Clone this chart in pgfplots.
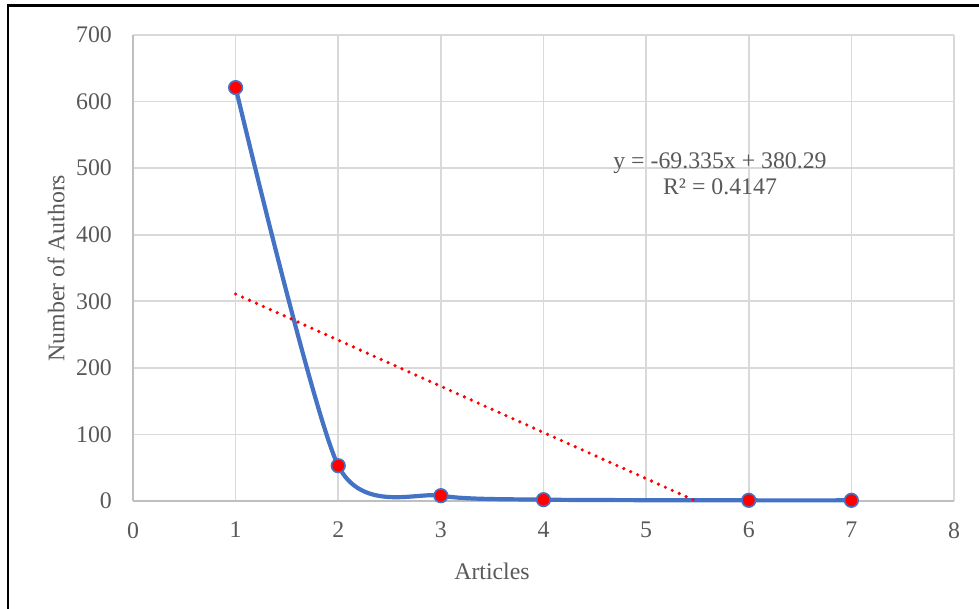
\documentclass[border=0pt]{standalone}
\usepackage{fontspec}
\setmainfont{Liberation Serif}
\usepackage{pgfplots}
\pgfplotsset{compat=1.18}
\definecolor{txt}{HTML}{595959}
\definecolor{gridc}{HTML}{D9D9D9}
\definecolor{axl}{HTML}{BFBFBF}
\definecolor{ser}{HTML}{4472C4}
\newcommand{\fs}{\fontsize{23.8}{28}\selectfont}
\begin{document}
\begin{tikzpicture}[x=1pt,y=1pt]
\useasboundingbox (0,0) rectangle (979,608);
\fill[white] (0,0) rectangle (979,608);
\draw[black, line width=2.4pt] (8,-5) -- (8,602.5) -- (990,602.5);
\begin{axis}[
  at={(133pt,107pt)}, anchor=south west,
  scale only axis, width=821pt, height=466pt,
  xmin=0, xmax=8, ymin=0, ymax=700,
  xtick={0,1,...,8}, ytick={0,100,...,700},
  grid=major, major grid style={gridc, line width=1.6pt},
  axis lines=left, axis line style={axl, line width=1.8pt, -},
  major tick length=0pt,
  tick label style={font=\fs, text=txt},
  /pgf/number format/assume math mode=true,
  yticklabel style={inner sep=0pt, xshift=-21pt, anchor=east},
  xticklabel style={inner sep=0pt, yshift=-21pt, anchor=north},
  clip=false,
]
\addplot[ser, line width=4.2pt, smooth, tension=0.42, mark=*, mark size=6.8pt,
  mark options={fill=red, draw=ser, line width=1.6pt}]
  coordinates {(1,621) (2,53) (3,8) (4,2) (6,1) (7,1)};
\addplot[red, line width=3.6pt, line cap=round, dash pattern=on 0pt off 7.6pt]
  coordinates {(1,310.955) (5.4848,0)};
\end{axis}
\node[font=\fs, text=txt] at (492,37) {Articles};
\node[font=\fs, text=txt, rotate=90] at (56,340) {Number of Authors};
\node[font=\fs, text=txt] at (720,445) {y = -69.335x + 380.29};
\node[font=\fs, text=txt] at (720,421) {R² = 0.4147};
\end{tikzpicture}
\end{document}
